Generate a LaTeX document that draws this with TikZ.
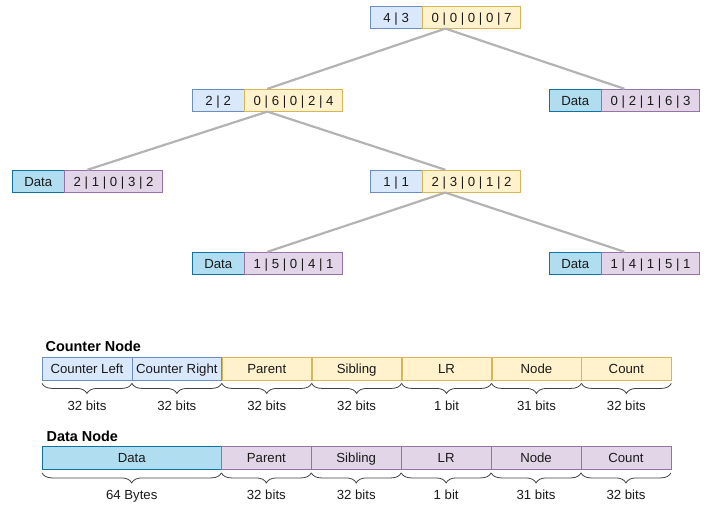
\documentclass[tikz,border=0pt]{standalone}
\usepackage{fontspec}
\setmainfont{Liberation Sans}
\usetikzlibrary{positioning,fit,decorations.pathreplacing}
\definecolor{cntfill}{HTML}{DAE8FC}
\definecolor{cntline}{HTML}{6C8EBF}
\definecolor{ptrfill}{HTML}{FFF2CC}
\definecolor{ptrline}{HTML}{D6B656}
\definecolor{datfill}{HTML}{B1DDF0}
\definecolor{datline}{HTML}{10739E}
\definecolor{leaffill}{HTML}{E1D5E7}
\definecolor{leafline}{HTML}{9673A6}
\definecolor{edgegray}{HTML}{B3B3B3}
\definecolor{txt}{HTML}{1A1A1A}
\tikzset{
  field/.style={draw, inner sep=0pt, minimum height=22pt, text=txt,
    text height=9.6pt, text depth=0pt,
    font=\fontsize{13.2}{15}\selectfont},
  cnt/.style={field, fill=cntfill, draw=cntline, minimum width=52pt},
  ptr/.style={field, fill=ptrfill, draw=ptrline, minimum width=98pt},
  dat/.style={field, fill=datfill, draw=datline, minimum width=52pt},
  leaf/.style={field, fill=leaffill, draw=leafline, minimum width=98pt},
  grp/.style={inner sep=0pt},
  edge/.style={draw=edgegray, line width=2.2pt},
  cell/.style={field, minimum width=89.5pt, minimum height=23pt},
  brc/.style={draw=black!75, line width=0.8pt, decorate,
    decoration={brace, mirror, amplitude=10pt}},
  blabel/.style={midway, yshift=-22pt, text=txt, text height=9.6pt, text depth=0pt,
    inner sep=0pt, font=\fontsize{13.2}{15}\selectfont},
  title/.style={anchor=west, inner sep=0pt, text=black,
    font=\fontsize{14.4}{16}\selectfont\bfseries}
}
\begin{document}
\begin{tikzpicture}[x=1pt,y=-1pt]
  \useasboundingbox (0,0) rectangle (709,504);

  % tree
  \node[cnt, anchor=north west] (rootL) at (370,6) {4 | 3};
  \node[ptr, right=0pt of rootL] (rootR) {0 | 0 | 0 | 0 | 7};
  \node[grp, fit=(rootL)(rootR)] (root) {};

  \node[cnt, anchor=north west] (midL) at (192,89) {2 | 2};
  \node[ptr, right=0pt of midL] (midR) {0 | 6 | 0 | 2 | 4};
  \node[grp, fit=(midL)(midR)] (mid) {};

  \node[dat, anchor=north west] (leafaL) at (549,89) {Data};
  \node[leaf, right=0pt of leafaL] (leafaR) {0 | 2 | 1 | 6 | 3};
  \node[grp, fit=(leafaL)(leafaR)] (leafa) {};

  \node[dat, anchor=north west] (leafbL) at (12,170) {Data};
  \node[leaf, right=0pt of leafbL] (leafbR) {2 | 1 | 0 | 3 | 2};
  \node[grp, fit=(leafbL)(leafbR)] (leafb) {};

  \node[cnt, anchor=north west] (lowL) at (370,170) {1 | 1};
  \node[ptr, right=0pt of lowL] (lowR) {2 | 3 | 0 | 1 | 2};
  \node[grp, fit=(lowL)(lowR)] (low) {};

  \node[dat, anchor=north west] (leafcL) at (192,252) {Data};
  \node[leaf, right=0pt of leafcL] (leafcR) {1 | 5 | 0 | 4 | 1};
  \node[grp, fit=(leafcL)(leafcR)] (leafc) {};

  \node[dat, anchor=north west] (leafdL) at (549,252) {Data};
  \node[leaf, right=0pt of leafdL] (leafdR) {1 | 4 | 1 | 5 | 1};
  \node[grp, fit=(leafdL)(leafdR)] (leafd) {};

  \draw[edge] (root.south) -- (mid.north);
  \draw[edge] (root.south) -- (leafa.north);
  \draw[edge] (mid.south) -- (leafb.north);
  \draw[edge] (mid.south) -- (low.north);
  \draw[edge] (low.south) -- (leafc.north);
  \draw[edge] (low.south) -- (leafd.north);

  % counter node layout
  \node[title] (cnttitle) at (45.5,346) {Counter Node};
  \node[cell, fill=cntfill, draw=cntline, anchor=north west] (c1) at (42,356.5) {Counter Left};
  \node[cell, fill=cntfill, draw=cntline, right=0pt of c1] (c2) {Counter Right};
  \node[cell, fill=ptrfill, draw=ptrline, right=0pt of c2] (c3) {Parent};
  \node[cell, fill=ptrfill, draw=ptrline, right=0pt of c3] (c4) {Sibling};
  \node[cell, fill=ptrfill, draw=ptrline, right=0pt of c4] (c5) {LR};
  \node[cell, fill=ptrfill, draw=ptrline, right=0pt of c5] (c6) {Node};
  \node[cell, fill=ptrfill, draw=ptrline, right=0pt of c6] (c7) {Count};

  \draw[brc] ([yshift=-3.5pt]c1.south west) -- ([yshift=-3.5pt]c1.south east) node[blabel] {32 bits};
  \draw[brc] ([yshift=-3.5pt]c2.south west) -- ([yshift=-3.5pt]c2.south east) node[blabel] {32 bits};
  \draw[brc] ([yshift=-3.5pt]c3.south west) -- ([yshift=-3.5pt]c3.south east) node[blabel] {32 bits};
  \draw[brc] ([yshift=-3.5pt]c4.south west) -- ([yshift=-3.5pt]c4.south east) node[blabel] {32 bits};
  \draw[brc] ([yshift=-3.5pt]c5.south west) -- ([yshift=-3.5pt]c5.south east) node[blabel] {1 bit};
  \draw[brc] ([yshift=-3.5pt]c6.south west) -- ([yshift=-3.5pt]c6.south east) node[blabel] {31 bits};
  \draw[brc] ([yshift=-3.5pt]c7.south west) -- ([yshift=-3.5pt]c7.south east) node[blabel] {32 bits};

  % data node layout
  \node[title] (dattitle) at (46.5,436) {Data Node};
  \node[cell, fill=datfill, draw=datline, minimum width=179pt, anchor=north west] (d1) at (42,446) {Data};
  \node[cell, fill=leaffill, draw=leafline, right=0pt of d1] (d3) {Parent};
  \node[cell, fill=leaffill, draw=leafline, right=0pt of d3] (d4) {Sibling};
  \node[cell, fill=leaffill, draw=leafline, right=0pt of d4] (d5) {LR};
  \node[cell, fill=leaffill, draw=leafline, right=0pt of d5] (d6) {Node};
  \node[cell, fill=leaffill, draw=leafline, right=0pt of d6] (d7) {Count};

  \draw[brc] ([yshift=-3.5pt]d1.south west) -- ([yshift=-3.5pt]d1.south east) node[blabel] {64 Bytes};
  \draw[brc] ([yshift=-3.5pt]d3.south west) -- ([yshift=-3.5pt]d3.south east) node[blabel] {32 bits};
  \draw[brc] ([yshift=-3.5pt]d4.south west) -- ([yshift=-3.5pt]d4.south east) node[blabel] {32 bits};
  \draw[brc] ([yshift=-3.5pt]d5.south west) -- ([yshift=-3.5pt]d5.south east) node[blabel] {1 bit};
  \draw[brc] ([yshift=-3.5pt]d6.south west) -- ([yshift=-3.5pt]d6.south east) node[blabel] {31 bits};
  \draw[brc] ([yshift=-3.5pt]d7.south west) -- ([yshift=-3.5pt]d7.south east) node[blabel] {32 bits};
\end{tikzpicture}
\end{document}
